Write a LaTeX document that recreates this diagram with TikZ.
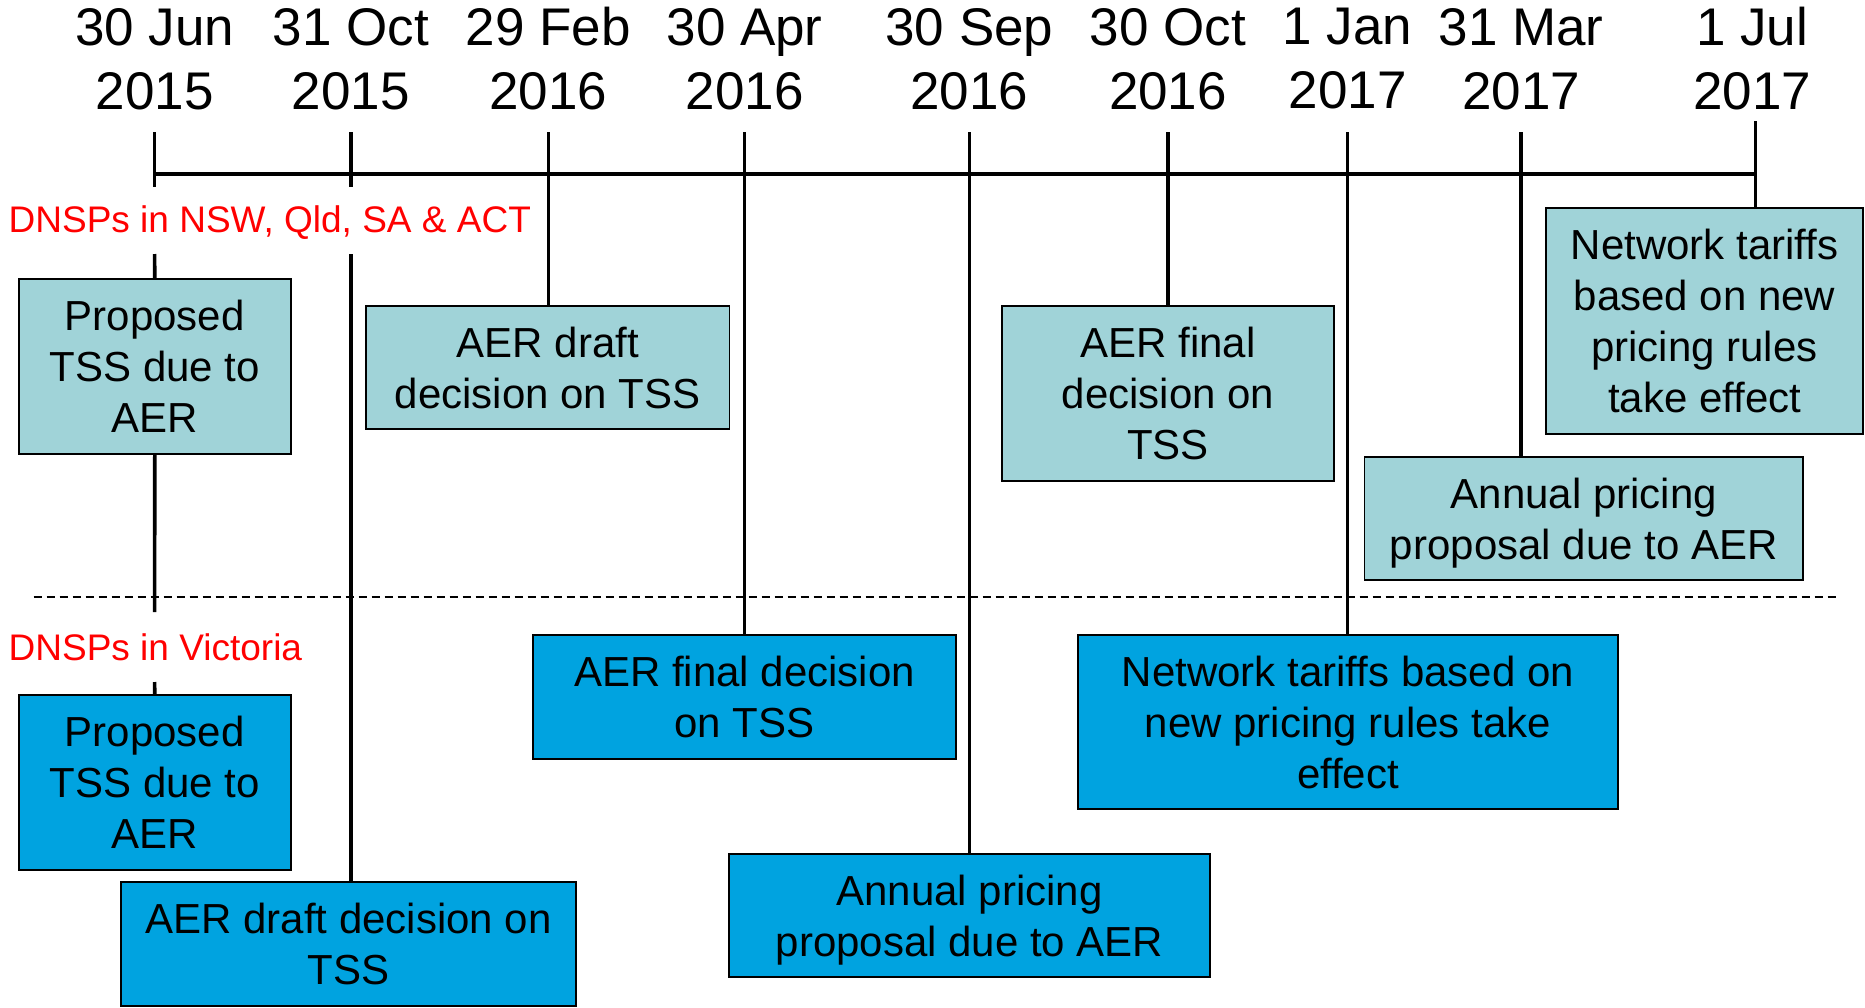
\documentclass[tikz,border=0pt]{standalone}
\usepackage{fontspec}
\setmainfont{Liberation Sans}
\definecolor{nswcol}{HTML}{A0D3D8}
\definecolor{viccol}{HTML}{00A3E0}
\begin{document}
\begin{tikzpicture}[x=1pt,y=-1pt,
  date/.style={font=\fontsize{53}{64}\selectfont, align=center, inner sep=0pt},
  grp/.style={font=\fontsize{37}{44}\selectfont, text=red, inner sep=0pt, anchor=base west},
  nswbox/.style={draw=black, line width=1.8pt, fill=nswcol, align=center, font=\fontsize{42}{51}\selectfont, inner sep=0pt, text depth=0pt},
  vicbox/.style={nswbox, fill=viccol},
  axis/.style={line width=4pt},
  conn/.style={line width=3.6pt},
  sep/.style={line width=1.8pt, dash pattern=on 8pt off 5pt}
]
\useasboundingbox (0,0) rectangle (1865,1007);

% date labels
\node[date] (d1) at (154.6,59) {30 Jun\\2015};
\node[date] (d2) at (350.9,59) {31 Oct\\2015};
\node[date] (d3) at (548.3,59) {29 Feb\\2016};
\node[date] (d4) at (744.6,59) {30 Apr\\2016};
\node[date] (d5) at (969.4,59) {30 Sep\\2016};
\node[date] (d6) at (1168,59) {30 Oct\\2016};
\node[date] (d7) at (1347.6,59) {1 Jan\\2017};
\node[date] (d8) at (1521.2,59) {31 Mar\\2017};
\node[date] (d9) at (1752,59) {1 Jul\\2017};

% tick tops
\coordinate (t1) at (154.6,132);
\coordinate (t2) at (350.9,132);
\coordinate (t3) at (548.3,132);
\coordinate (t4) at (744.6,132);
\coordinate (t5) at (969.4,132);
\coordinate (t6) at (1168,132);
\coordinate (t7) at (1347.6,132);
\coordinate (t8) at (1521.2,132);
\coordinate (t9) at (1755.5,121);

% timeline
\coordinate (ta) at (154.6,173.6);
\coordinate (tb) at (1755.5,173.6);
\draw[axis] (ta) -- (tb);

% group labels
\node[grp] (nsw) at (8.5,232.7) {DNSPs in NSW, Qld, SA \& ACT};
\node[grp] (vic) at (8.5,660) {DNSPs in Victoria};

% separator
\coordinate (s1) at (33.5,597);
\coordinate (s2) at (1838,597);
\draw[sep] (s1) -- (s2);

% NSW boxes
\node[nswbox, minimum width=272.4pt, minimum height=175pt] (b1) at (154.8,366.5) {Proposed\\TSS due to\\AER};
\node[nswbox, minimum width=363.5pt, minimum height=123pt] (b2) at (547.75,367.5) {AER draft\\decision on TSS};
\node[nswbox, minimum width=332pt, minimum height=175pt] (b3) at (1168,393.5) {AER final\\decision on\\TSS};
\node[nswbox, minimum width=317pt, minimum height=226pt] (b4) at (1704.5,321) {Network tariffs\\based on new\\pricing rules\\take effect};
\node[nswbox, minimum width=438.5pt, minimum height=123pt] (b5) at (1583.75,518.5) {Annual pricing\\proposal due to AER};

% Victoria boxes
\node[vicbox, minimum width=272.4pt, minimum height=175pt] (b6) at (154.8,782.5) {Proposed\\TSS due to\\AER};
\node[vicbox, minimum width=455pt, minimum height=124pt] (b7) at (348.5,944) {AER draft decision on\\TSS};
\node[vicbox, minimum width=423pt, minimum height=124pt] (b8) at (744.5,697) {AER final decision\\on TSS};
\node[vicbox, minimum width=481pt, minimum height=123pt] (b9) at (969.5,915.5) {Annual pricing\\proposal due to AER};
\node[vicbox, minimum width=540pt, minimum height=174pt] (b10) at (1348,722) {Network tariffs based on\\new pricing rules take\\effect};

% break points
\coordinate (g1a) at (154.6,187);
\coordinate (g1b) at (154.6,254);
\coordinate (g1c) at (154.6,612);
\coordinate (g1d) at (154.6,682);
\coordinate (g2a) at (350.9,187);
\coordinate (g2b) at (350.9,254);

% connectors
\draw[conn] (t1) -- (g1a);
\draw[conn] (g1b) -- (b1.north);
\draw[conn] (b1.south) -- (g1c);
\draw[conn] (g1d) -- (b6.north);
\draw[conn] (t2) -- (g2a);
\draw[conn] (g2b) -- (g2b |- b7.north);
\draw[conn] (t3) -- (t3 |- b2.north);
\draw[conn] (t4) -- (t4 |- b8.north);
\draw[conn] (t5) -- (t5 |- b9.north);
\draw[conn] (t6) -- (t6 |- b3.north);
\draw[conn] (t7) -- (t7 |- b10.north);
\draw[conn] (t8) -- (t8 |- b5.north);
\draw[conn] (t9) -- (t9 |- b4.north);
\end{tikzpicture}
\end{document}
